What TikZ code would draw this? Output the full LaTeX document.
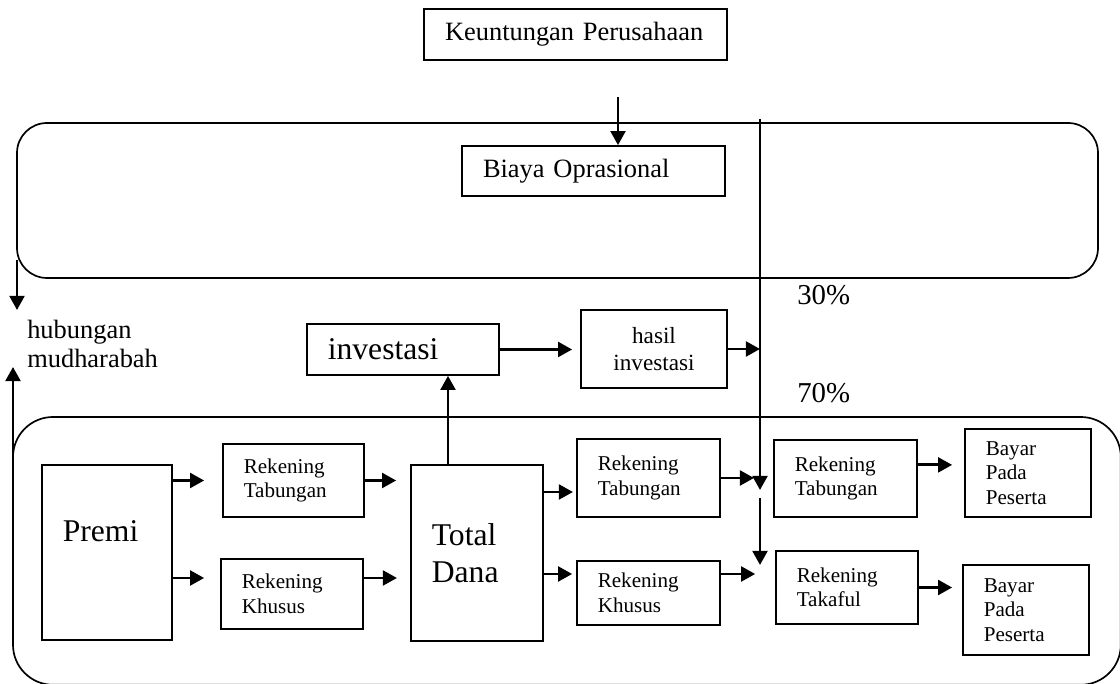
\documentclass[tikz,border=0pt]{standalone}
\usepackage{fontspec}
\setmainfont{Liberation Serif}
\usepackage{tikz}
\usetikzlibrary{arrows.meta,positioning,calc}
\tikzset{
  box/.style={draw,line width=1.2pt,inner xsep=0.52cm,inner ysep=2pt,align=left},
  panel/.style={draw,line width=1.2pt},
  flow/.style={-{Triangle[length=10pt,width=10.5pt]},line width=2pt},
  largefont/.style={font=\fontsize{22.5}{26}\selectfont},
  midfont/.style={font=\fontsize{18.8}{21}\selectfont},
  hasilfont/.style={font=\fontsize{16.5}{18.8}\selectfont},
  smallfont/.style={font=\fontsize{15}{17.4}\selectfont},
  pctfont/.style={font=\fontsize{20.5}{24}\selectfont}
}
\begin{document}
\begin{tikzpicture}
  \useasboundingbox (0,0) rectangle (28,17.1);
  % the two large panels
  \draw[panel,rounded corners=0.75cm] (0.425,14.025) rectangle (27.45,10.15);
  \draw[panel,rounded corners=1cm] (0.325,6.675) rectangle (28.02,-0.02);

  \node[box,midfont,text width=6.53cm,minimum height=1.275cm] (untung) at (14.39,16.24) {Keuntungan Perusahaan};
  \node[box,midfont,text width=5.53cm,minimum height=1.25cm] (biaya) at (14.84,12.825) {Biaya Oprasional};
  \node[box,largefont,text width=3.76cm,minimum height=1.275cm] (invest) at (10.075,8.3625) {investasi};
  \node[box,hasilfont,align=center,text width=2.61cm,minimum height=1.95cm] (hasil) at (16.35,8.375) {hasil\\investasi};

  \node[box,largefont,text width=2.21cm,minimum height=4.375cm,text depth=30pt] (premi) at (2.675,3.2875) {Premi};
  \node[box,smallfont,text width=2.485cm,minimum height=1.825cm] (tab1) at (7.3375,5.0875) {Rekening\\Tabungan};
  \node[box,smallfont,text width=2.51cm,minimum height=1.75cm] (khu1) at (7.3,2.25) {Rekening\\Khusus};
  \node[box,largefont,text width=2.26cm,minimum height=4.4cm] (dana) at (11.925,3.275) {Total\\Dana};
  \node[box,smallfont,text width=2.535cm,minimum height=1.95cm] (tab2) at (16.2125,5.15) {Rekening\\Tabungan};
  \node[box,smallfont,text width=2.535cm,minimum height=1.6cm] (khu2) at (16.2125,2.275) {Rekening\\Khusus};
  \node[box,smallfont,text width=2.535cm,minimum height=1.925cm] (tab3) at (21.1375,5.1375) {Rekening\\Tabungan};
  \node[box,smallfont,text width=2.51cm,minimum height=1.825cm] (takaful) at (21.175,2.4125) {Rekening\\Takaful};
  \node[box,smallfont,text width=2.11cm,minimum height=2.2cm] (bayar1) at (25.7,5.275) {Bayar\\Pada\\Peserta};
  \node[box,smallfont,text width=2.11cm,minimum height=2.25cm] (bayar2) at (25.65,1.85) {Bayar\\Pada\\Peserta};

  \node[anchor=west,midfont,align=left,inner sep=0pt] (mudharabah) at (0.675,8.5) {hubungan\\mudharabah};
  \node[anchor=west,pctfont,inner sep=0pt] (p30) at (19.925,9.725) {30\%};
  \node[anchor=west,pctfont,inner sep=0pt] (p70) at (19.925,7.275) {70\%};

  % profit split line
  \coordinate (masuk) at (15.45,14.675);
  \coordinate (bagi) at (19,14.125);
  \coordinate (bagiA) at (19,4.85);
  \coordinate (bagiB) at (19,4.65);
  \coordinate (bagiC) at (19,2.975);
  \coordinate (naik) at ($(dana.north)+(-0.725,0)$);
  \coordinate (kiriA) at (0.425,10.6);
  \coordinate (kiriB) at (0.425,9.35);
  \coordinate (kiriC) at (0.325,5.725);
  \coordinate (kiriD) at (0.325,7.925);

  \draw[flow] (masuk) -- (masuk |- biaya.north);
  \draw[flow] (bagi) -- (bagiA);
  \draw[flow] (bagiB) -- (bagiC);
  \draw[flow,shorten >=0.2cm] (invest.east) -- (invest.east -| hasil.west);
  \draw[flow] (hasil.east) -- (hasil.east -| bagi);
  \draw[flow] (naik) -- (naik |- invest.south);
  \draw[flow] (kiriA) -- (kiriB);
  \draw[flow] (kiriC) -- (kiriD);

  \draw[flow,shorten >=0.45cm] (premi.east |- tab1.west) -- (tab1.west);
  \draw[flow,shorten >=0.4cm] ($(premi.east |- khu1.west)+(0,0.4)$) -- ($(khu1.west)+(0,0.4)$);
  \draw[flow,shorten >=0.35cm] (tab1.east) -- (tab1.east -| dana.west);
  \draw[flow,shorten >=0.33cm] ($(khu1.east)+(0,0.4)$) -- ($(khu1.east -| dana.west)+(0,0.4)$);
  \draw[flow,shorten >=0.08cm] ($(dana.east |- tab2.west)+(0,-0.35)$) -- ($(tab2.west)+(0,-0.35)$);
  \draw[flow,shorten >=0.1cm] ($(dana.east |- khu2.west)+(0,0.475)$) -- ($(khu2.west)+(0,0.475)$);
  \draw[flow,shorten >=0.15cm] (tab2.east) -- (tab2.east -| bagi);
  \draw[flow,shorten >=0.12cm] ($(khu2.east)+(0,0.475)$) -- ($(khu2.east -| bagi)+(0,0.475)$);
  \draw[flow,shorten >=0.3cm] ($(tab3.east)+(0,0.34)$) -- ($(tab3.east -| bayar1.west)+(0,0.34)$);
  \draw[flow,shorten >=0.25cm] (takaful.east) -- (takaful.east -| bayar2.west);
\end{tikzpicture}
\end{document}
